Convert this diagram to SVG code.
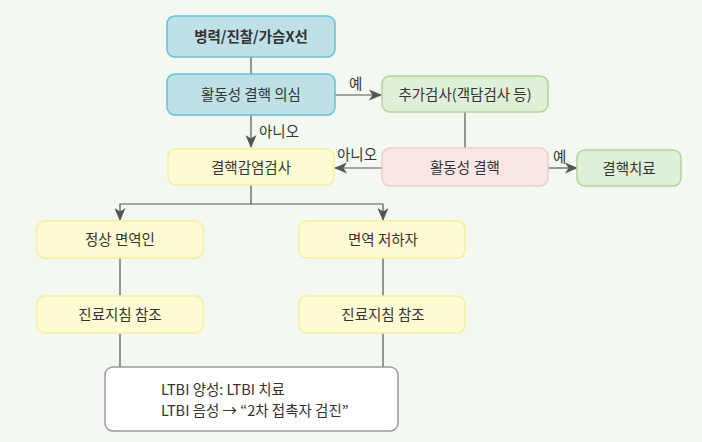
<svg xmlns="http://www.w3.org/2000/svg" width="702" height="442" viewBox="0 0 702 442">
<defs>
<style>
.t{font-family:"Noto Sans CJK KR","Noto Sans",sans-serif;font-size:14.5px;fill:#333;text-anchor:middle}
.b{font-weight:bold}
.lbl{font-family:"Noto Sans CJK KR","Noto Sans",sans-serif;font-size:14.5px;fill:#333}
.blue{fill:#bfe0e6;stroke:#5ec3d6;stroke-width:1.5}
.green{fill:#e0efd7;stroke:#aed59c;stroke-width:1.5}
.yellow{fill:#fffcd4;stroke:#f6ee9e;stroke-width:1.5}
.pink{fill:#fae6e5;stroke:#efcccb;stroke-width:1.5}
.white{fill:#fff;stroke:#9a9a9a;stroke-width:1.5}
.ln{fill:none;stroke:#555;stroke-width:1.2}
</style>
<marker id="ah" viewBox="0 0 13 11" markerWidth="13" markerHeight="11" refX="12" refY="5.5" orient="auto" markerUnits="userSpaceOnUse">
<path d="M0,0 L13,5.5 L0,11 L3.5,5.5 Z" fill="#555"/>
</marker>
</defs>
<rect width="702" height="442" fill="#f3f8f1"/>
<g id="connectors">
<path class="ln" d="M251,57 V74"/>
<path class="ln" d="M335,95 H381" marker-end="url(#ah)"/>
<path class="ln" d="M251,115 V147" marker-end="url(#ah)"/>
<path class="ln" d="M465,112 V148"/>
<path class="ln" d="M382,168 H335" marker-end="url(#ah)"/>
<path class="ln" d="M548,168 H577" marker-end="url(#ah)"/>
<path class="ln" d="M251,185 V204 H120 V220" marker-end="url(#ah)"/>
<path class="ln" d="M251,204 H383 V220" marker-end="url(#ah)"/>
<path class="ln" d="M120,258 V296"/>
<path class="ln" d="M120,333 V367"/>
<path class="ln" d="M383,258 V296"/>
<path class="ln" d="M383,333 V367"/>
<text class="lbl" x="349" y="88.5">예</text>
<text class="lbl" x="259" y="136.5">아니오</text>
<text class="lbl" x="337" y="159.5">아니오</text>
<text class="lbl" x="553" y="161.5">예</text>
</g>
<g id="n1"><rect class="blue" x="167" y="16" width="168" height="41" rx="8"/><text class="t b" x="251" y="42">병력/진찰/가슴X선</text></g>
<g id="n2"><rect class="blue" x="167" y="74" width="168" height="41" rx="8"/><text class="t" x="251" y="100">활동성 결핵 의심</text></g>
<g id="n3"><rect class="green" x="382" y="76" width="166" height="36" rx="8"/><text class="t" x="465" y="99.5">추가검사(객담검사 등)</text></g>
<g id="n4"><rect class="yellow" x="168" y="149" width="166" height="36" rx="8"/><text class="t" x="251" y="172.5">결핵감염검사</text></g>
<g id="n5"><rect class="pink" x="382" y="148" width="166" height="38" rx="8"/><text class="t" x="465" y="172.5">활동성 결핵</text></g>
<g id="n6"><rect class="green" x="577" y="150" width="104" height="36" rx="8"/><text class="t" x="629" y="173.5">결핵치료</text></g>
<g id="n7"><rect class="yellow" x="37" y="221" width="166" height="37" rx="8"/><text class="t" x="120" y="245">정상 면역인</text></g>
<g id="n8"><rect class="yellow" x="299" y="221" width="166" height="37" rx="8"/><text class="t" x="383" y="245">면역 저하자</text></g>
<g id="n9"><rect class="yellow" x="37" y="296" width="166" height="37" rx="8"/><text class="t" x="120" y="320">진료지침 참조</text></g>
<g id="n10"><rect class="yellow" x="299" y="296" width="166" height="37" rx="8"/><text class="t" x="383" y="320">진료지침 참조</text></g>
<g id="n11"><rect class="white" x="105" y="367" width="293" height="64" rx="8"/>
<text class="lbl" x="161" y="395">LTBI 양성: LTBI 치료</text>
<text class="lbl" x="161" y="416">LTBI 음성 → “2차 접촉자 검진”</text></g>
</svg>
